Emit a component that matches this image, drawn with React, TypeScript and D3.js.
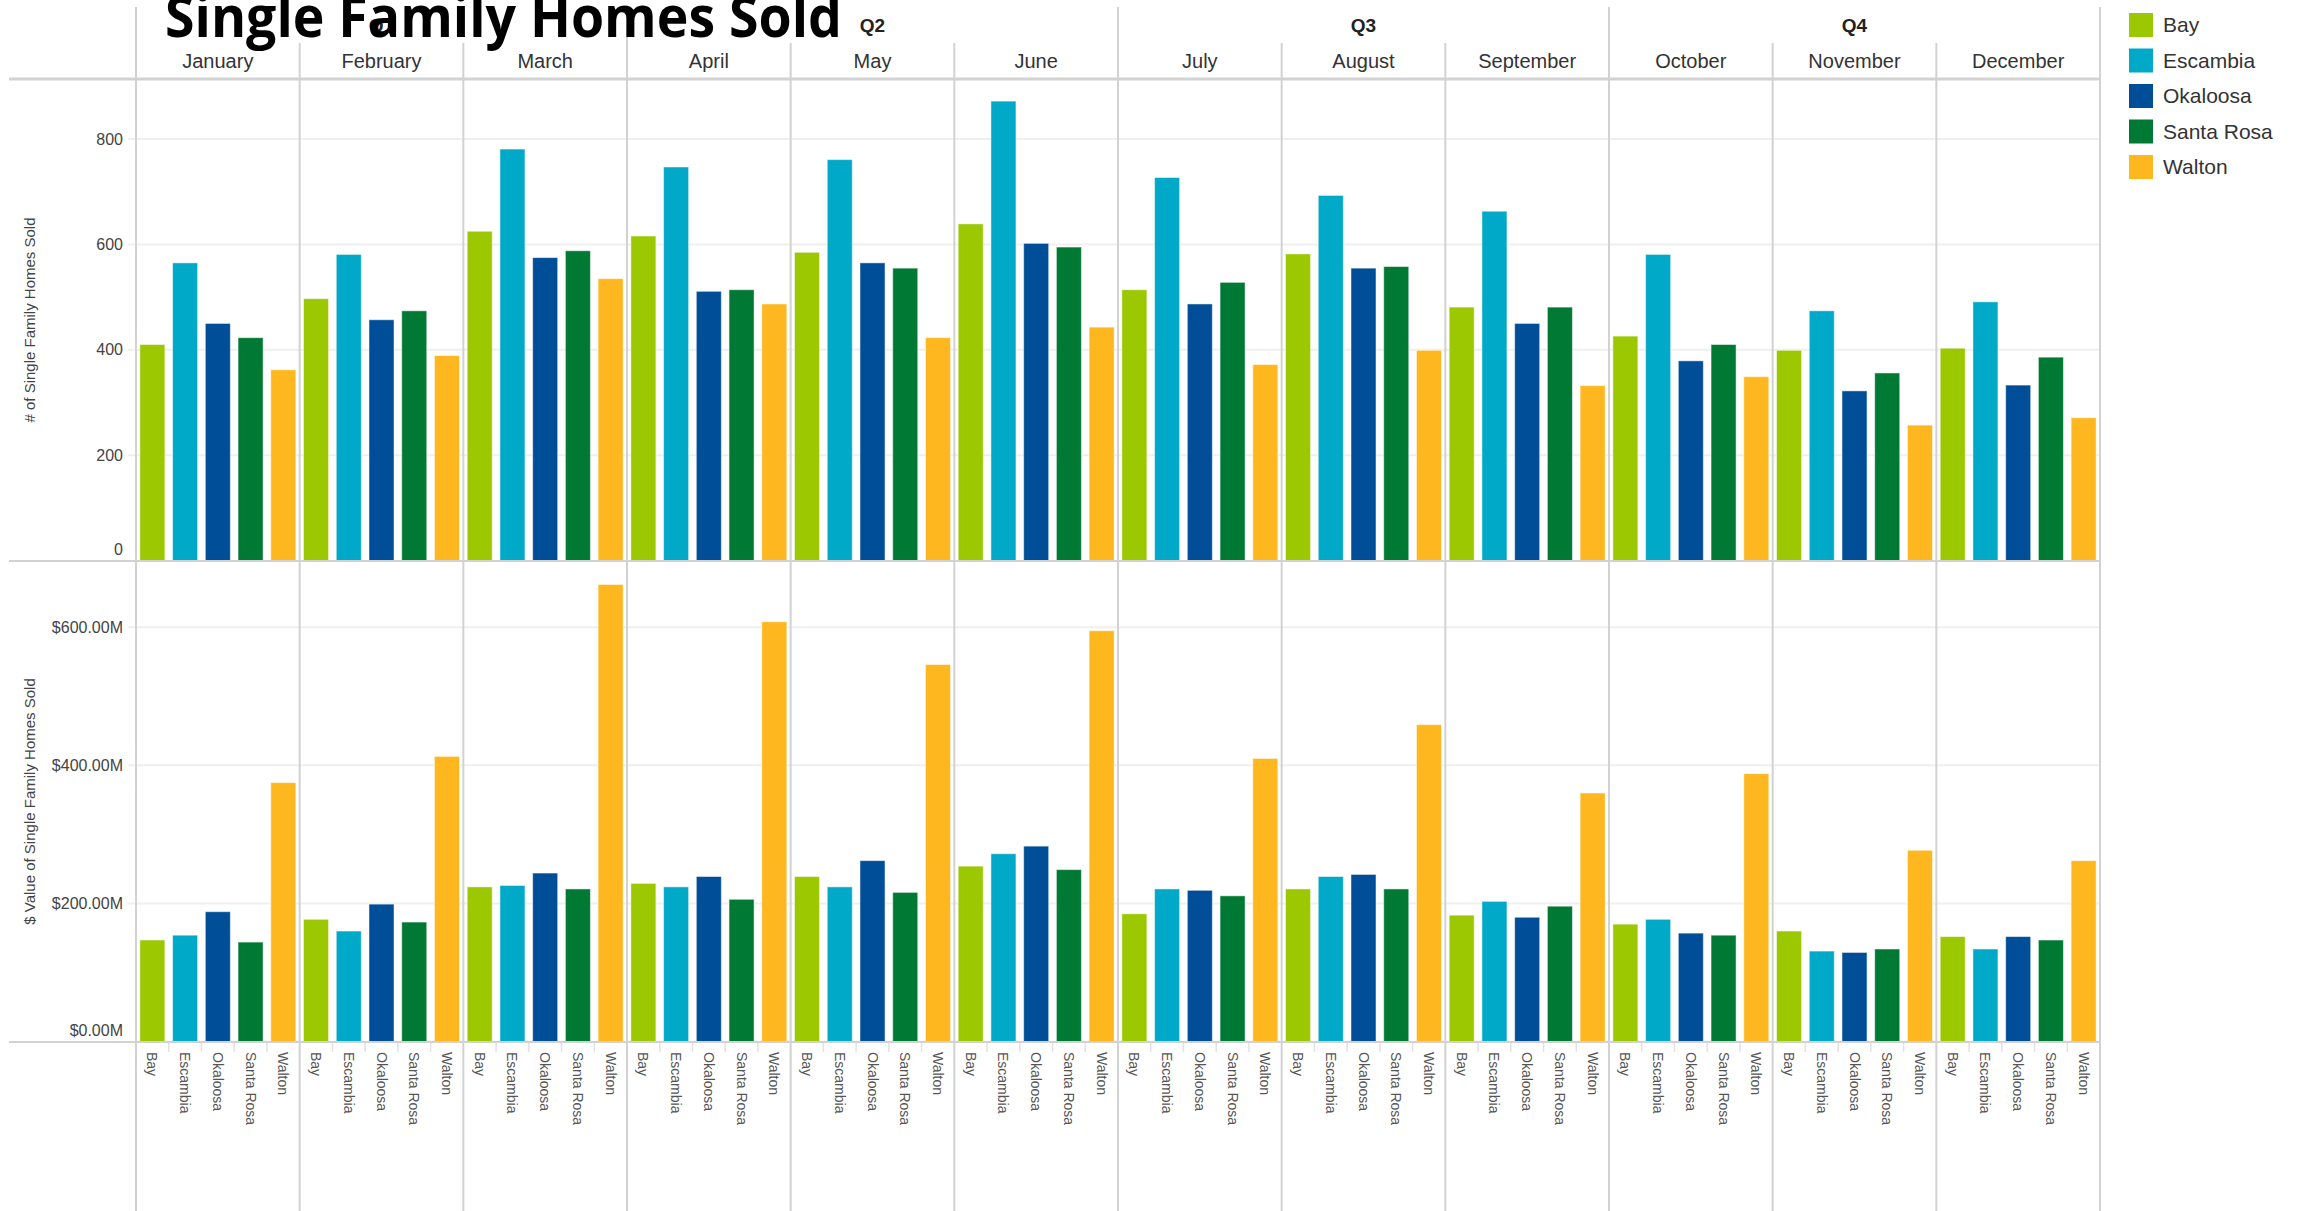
import React from "react";
import * as d3 from "d3";

const MONTHS = ["January", "February", "March", "April", "May", "June", "July", "August", "September", "October", "November", "December"];
const QUARTERS = ["Q1", "Q2", "Q3", "Q4"];
const COUNTIES = ["Bay", "Escambia", "Okaloosa", "Santa Rosa", "Walton"];
const COUNTY_COLORS = ["#9bc800", "#00a9c7", "#004e98", "#007934", "#feb71e"];

// # of single family homes sold, per month
const soldBay = [410, 497, 625, 616, 585, 639, 514, 582, 481, 426, 399, 403];
const soldEscambia = [565, 581, 781, 747, 761, 872, 727, 693, 663, 581, 474, 491];
const soldOkaloosa = [450, 457, 575, 511, 565, 602, 487, 555, 450, 379, 322, 333];
const soldSantaRosa = [423, 474, 588, 514, 555, 595, 528, 558, 481, 410, 356, 386];
const soldWalton = [362, 389, 535, 487, 423, 443, 372, 399, 332, 349, 257, 271];

// $ value of single family homes sold (millions), per month
const valueBay = [147, 177, 224, 229, 239, 254, 185, 221, 183, 170, 160, 152];
const valueEscambia = [154, 160, 226, 224, 224, 272, 221, 239, 203, 177, 131, 134];
const valueOkaloosa = [188, 199, 244, 239, 262, 283, 219, 242, 180, 157, 129, 152];
const valueSantaRosa = [144, 173, 221, 206, 216, 249, 211, 221, 196, 154, 134, 147];
const valueWalton = [375, 413, 662, 608, 546, 595, 410, 459, 360, 388, 277, 262];

const SOLD_TICKS = [0, 200, 400, 600, 800];
const VALUE_TICKS = [0, 200, 400, 600];

const SOLD = [soldBay, soldEscambia, soldOkaloosa, soldSantaRosa, soldWalton];
const VALUE = [valueBay, valueEscambia, valueOkaloosa, valueSantaRosa, valueWalton];

const W = 2297;
const H = 1211;
const LEFT = 136;
const RIGHT = 2100;
const HEADER_Y = 79;
const MID_Y = 561;
const BASE_Y = 1042;
const FONT = "'Liberation Sans', Arial, sans-serif";
const LINE = "#d2d2d2";
const GRID = "#efefef";

export default function App() {
  const xMonth = d3.scaleBand<string>().domain(MONTHS).range([LEFT, RIGHT]).padding(0);
  const xQuarter = d3.scaleBand<string>().domain(QUARTERS).range([LEFT, RIGHT]).padding(0);
  const xCounty = d3
    .scaleBand<string>()
    .domain(COUNTIES)
    .range([0, xMonth.bandwidth()])
    .paddingInner(0.235)
    .paddingOuter(0.1175);
  const ySold = d3.scaleLinear().domain([0, 914]).range([560.5, HEADER_Y]);
  const yValue = d3.scaleLinear().domain([0, 696]).range([1041.5, MID_Y]);
  const fmtValue = (v: number) => `$${d3.format(".2f")(v)}M`;

  const step = xCounty.step();

  return (
    <svg
      width={W}
      height={H}
      style={{ position: "absolute", left: 0, top: 0, display: "block", background: "#fff" }}
    >
      {/* gridlines */}
      {SOLD_TICKS.filter((t) => t > 0).map((t) => (
        <line key={"gs" + t} x1={128} x2={RIGHT} y1={ySold(t)} y2={ySold(t)} stroke={GRID} strokeWidth={2} />
      ))}
      {VALUE_TICKS.filter((t) => t > 0).map((t) => (
        <line key={"gv" + t} x1={128} x2={RIGHT} y1={yValue(t)} y2={yValue(t)} stroke={GRID} strokeWidth={2} />
      ))}

      {/* bars */}
      {MONTHS.map((m, mi) => (
        <g key={"m" + m} transform={`translate(${xMonth(m)},0)`}>
          {COUNTIES.map((c, ci) => {
            const x = xCounty(c) as number;
            const vs = SOLD[ci][mi];
            const vv = VALUE[ci][mi];
            return (
              <g key={c}>
                <rect
                  x={x}
                  y={ySold(vs)}
                  width={xCounty.bandwidth()}
                  height={ySold(0) - ySold(vs)}
                  fill={COUNTY_COLORS[ci]}
                  stroke="#ffffff"
                  strokeOpacity={0.5}
                  strokeWidth={1}
                />
                <rect
                  x={x}
                  y={yValue(vv)}
                  width={xCounty.bandwidth()}
                  height={yValue(0) - yValue(vv)}
                  fill={COUNTY_COLORS[ci]}
                  stroke="#ffffff"
                  strokeOpacity={0.5}
                  strokeWidth={1}
                />
                <text
                  transform={`translate(${x + xCounty.bandwidth() / 2 - 5},${BASE_Y + 10}) rotate(90)`}
                  fontFamily={FONT}
                  fontSize={14}
                  fill="#555"
                >
                  {c}
                </text>
                {ci > 0 && (
                  <line
                    x1={ci * step}
                    x2={ci * step}
                    y1={BASE_Y}
                    y2={BASE_Y + 10}
                    stroke="#e2e2e2"
                    strokeWidth={1.5}
                  />
                )}
              </g>
            );
          })}
        </g>
      ))}

      {/* horizontal frame lines */}
      <line x1={9} x2={RIGHT} y1={HEADER_Y} y2={HEADER_Y} stroke={LINE} strokeWidth={3} />
      <line x1={9} x2={RIGHT} y1={MID_Y} y2={MID_Y} stroke={LINE} strokeWidth={2} />
      <line x1={9} x2={RIGHT} y1={BASE_Y} y2={BASE_Y} stroke={LINE} strokeWidth={2} />

      {/* month dividers */}
      {MONTHS.map((m) => (
        <line key={"md" + m} x1={xMonth(m)} x2={xMonth(m)} y1={43} y2={H} stroke={LINE} strokeWidth={2} />
      ))}
      {/* quarter dividers */}
      {QUARTERS.map((q) => (
        <line key={"qd" + q} x1={xQuarter(q)} x2={xQuarter(q)} y1={7} y2={H} stroke={LINE} strokeWidth={2} />
      ))}
      <line x1={RIGHT} x2={RIGHT} y1={7} y2={H} stroke={LINE} strokeWidth={2} />

      {/* month labels */}
      {MONTHS.map((m) => (
        <text
          key={"ml" + m}
          x={(xMonth(m) as number) + xMonth.bandwidth() / 2}
          y={68}
          textAnchor="middle"
          fontFamily={FONT}
          fontSize={20}
          fill="#333"
        >
          {m}
        </text>
      ))}
      {/* quarter labels */}
      {QUARTERS.map((q) => (
        <text
          key={"ql" + q}
          x={(xQuarter(q) as number) + xQuarter.bandwidth() / 2}
          y={32}
          textAnchor="middle"
          fontFamily={FONT}
          fontSize={19}
          fontWeight="bold"
          fill="#222"
        >
          {q}
        </text>
      ))}

      {/* y tick labels */}
      {SOLD_TICKS.map((t) => (
        <text
          key={"ts" + t}
          x={123}
          y={t === 0 ? ySold(t) - 6 : ySold(t) + 5.5}
          textAnchor="end"
          fontFamily={FONT}
          fontSize={16}
          fill="#444"
        >
          {t}
        </text>
      ))}
      {VALUE_TICKS.map((t) => (
        <text
          key={"tv" + t}
          x={123}
          y={t === 0 ? yValue(t) - 6 : yValue(t) + 5.5}
          textAnchor="end"
          fontFamily={FONT}
          fontSize={16}
          fill="#444"
        >
          {fmtValue(t)}
        </text>
      ))}

      {/* y axis titles */}
      <text
        transform={`translate(35,${(HEADER_Y + MID_Y) / 2}) rotate(-90)`}
        textAnchor="middle"
        fontFamily={FONT}
        fontSize={15}
        fill="#444"
      >
        # of Single Family Homes Sold
      </text>
      <text
        transform={`translate(35,${(MID_Y + BASE_Y) / 2}) rotate(-90)`}
        textAnchor="middle"
        fontFamily={FONT}
        fontSize={15}
        fill="#444"
      >
        $ Value of Single Family Homes Sold
      </text>

      {/* legend */}
      {COUNTIES.map((c, i) => (
        <g key={"lg" + c} transform={`translate(2129,${13 + i * 35.5})`}>
          <rect x={0} y={0} width={24} height={24} fill={COUNTY_COLORS[i]} />
          <text x={34} y={19} fontFamily={FONT} fontSize={21} fill="#333">
            {c}
          </text>
        </g>
      ))}

      {/* title */}
      <text
        x={165}
        y={37}
        fontFamily="'Open Sans', sans-serif"
        fontWeight={700}
        fontSize={58}
        textLength={677}
        lengthAdjust="spacingAndGlyphs"
        fill="#000"
      >
        Single Family Homes Sold
      </text>
    </svg>
  );
}
